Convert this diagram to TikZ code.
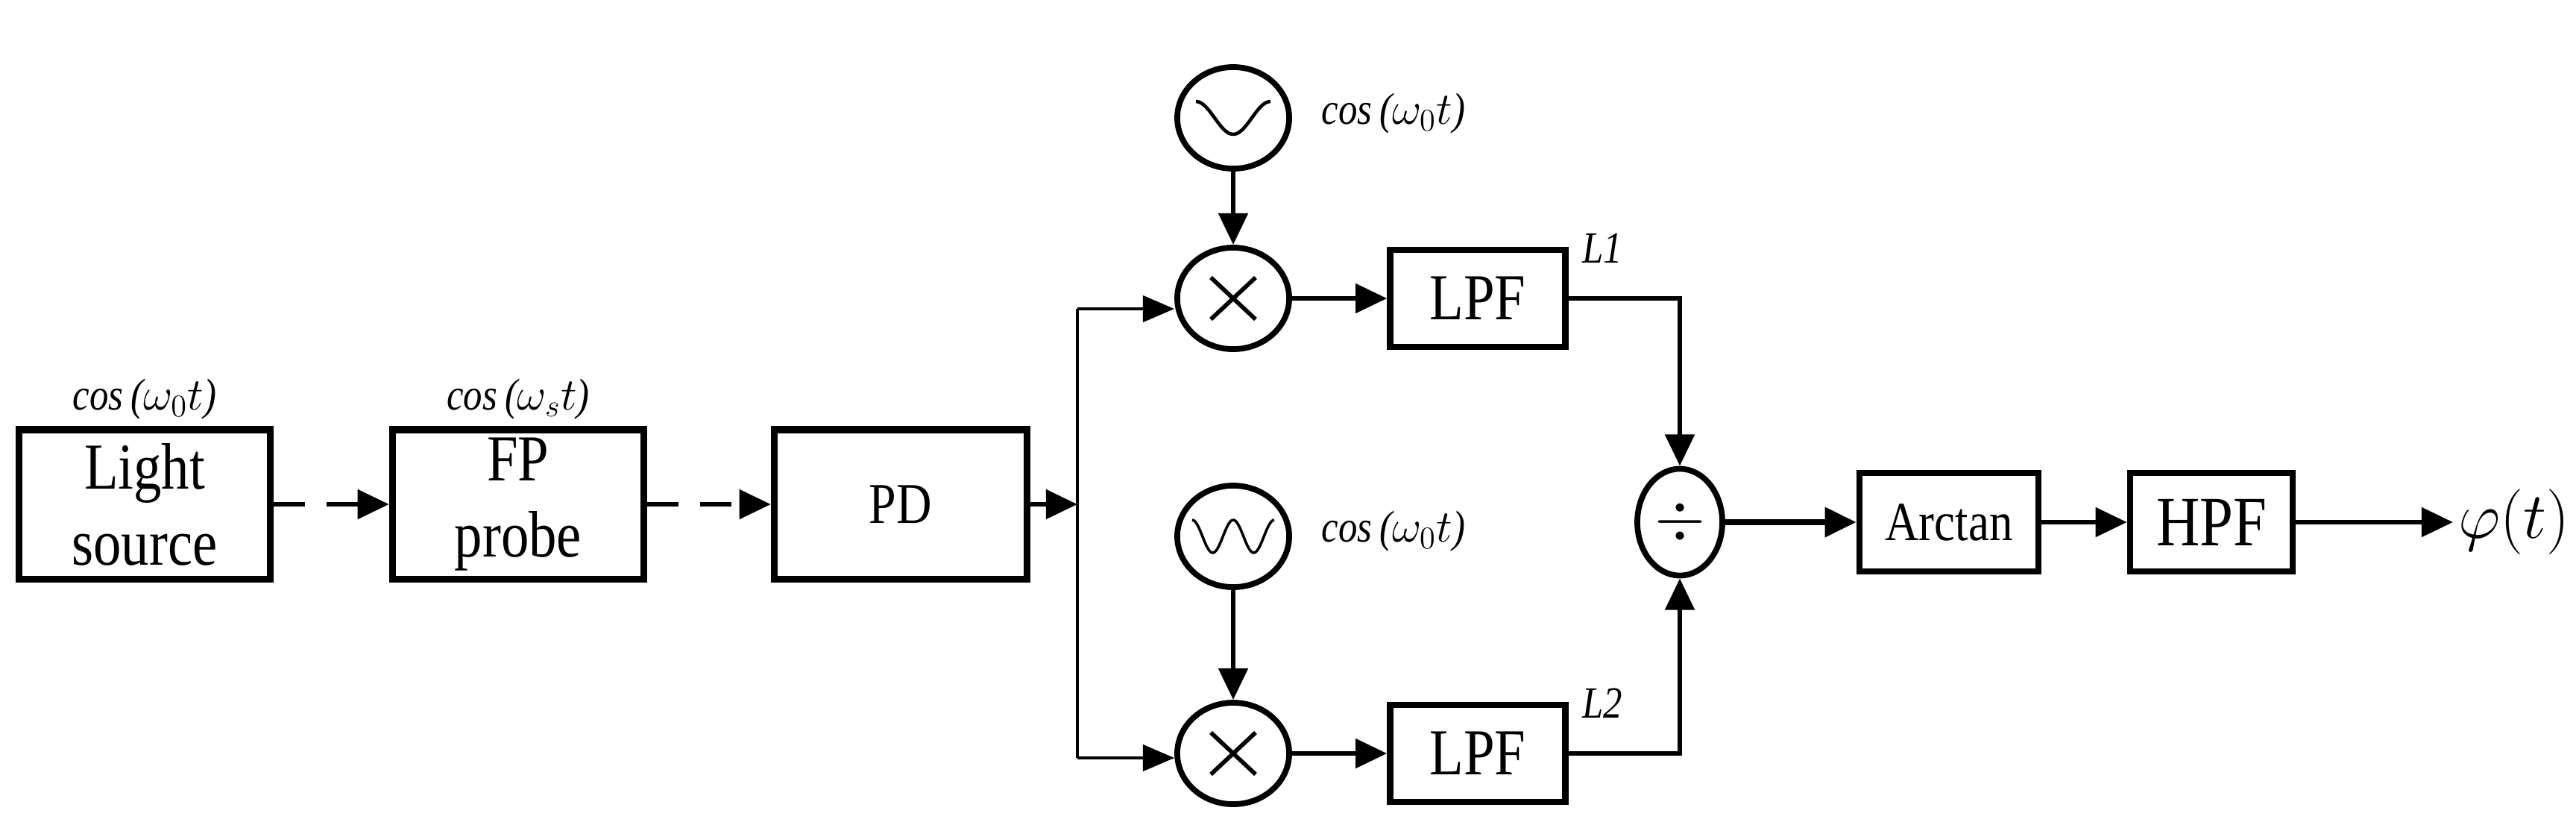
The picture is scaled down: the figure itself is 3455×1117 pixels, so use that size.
\documentclass[tikz,border=0pt]{standalone}
\usepackage{fontspec}
\setmainfont{Liberation Serif}[FakeStretch=0.85]
\usetikzlibrary{arrows.meta,shapes.geometric}
\begin{document}
\begin{tikzpicture}[x=0.01cm,y=-0.01cm,
 box/.style={draw,line width=2.6pt,minimum width=#1,align=center,inner sep=0pt,font=\fontsize{25}{29}\selectfont},
 sm/.style={draw,line width=2.4pt,align=center,inner sep=0pt,font=\fontsize{25}{28}\selectfont},
 circ/.style={draw,ellipse,line width=2.2pt,minimum width=1.5cm,minimum height=1.36cm,inner sep=0pt},
 ar/.style={-{Triangle[length=12pt,width=11pt]},line width=1.8pt},
 thin/.style={-{Triangle[length=12pt,width=10pt]},line width=1.1pt},
 lab/.style={font=\fontsize{17}{20}\selectfont\itshape}]
\useasboundingbox (0,0) rectangle (3455,1117);
\node[box=3.37cm,minimum height=2cm] (ls) at (194,676) {Light\\source};
\node[box=3.37cm,minimum height=2cm] (fp) at (695,676) {FP\\probe};
\node[box=3.39cm,minimum height=2cm,font=\fontsize{22}{26}\selectfont] (pd) at (1208,676) {PD};
\node[lab] at (194,535) {cos\,($\omega_0 t$)};
\node[lab] at (695,535) {cos\,($\omega_s t$)};
\coordinate (j) at (1445,676);
\coordinate (jt) at (1445,414);
\coordinate (jb) at (1445,1016);
\node[circ] (m1) at (1654,400) {};
\node[circ] (o1) at (1654,158) {};
\node[circ] (m2) at (1654,1010) {};
\node[circ] (o2) at (1654,719) {};
\foreach \m in {m1,m2}{\draw[line width=1.6pt] ([shift={(-30,-28)}]\m.center) -- ([shift={(30,28)}]\m.center) ([shift={(-30,28)}]\m.center) -- ([shift={(30,-28)}]\m.center);}
\draw[line width=1.3pt] plot[domain=0:1,samples=40] ({1654-50+100*\x},{158-22*cos(360*\x)});
\draw[line width=1pt] plot[domain=0:1,samples=60] ({1654-55+110*\x},{719-22*cos(720*\x)});
\node[lab,anchor=west] at (1760,152) {cos\,($\omega_0 t$)};
\node[lab,anchor=west] at (1760,712) {cos\,($\omega_0 t$)};
\node[sm,minimum width=2.35cm,minimum height=1.3cm] (f1) at (1982,400) {LPF};
\node[sm,minimum width=2.35cm,minimum height=1.3cm] (f2) at (1982,1010) {LPF};
\node[lab,anchor=south west] at (2110,365) {L1};
\node[lab,anchor=south west] at (2110,975) {L2};
\node[circ,minimum width=1.14cm,minimum height=1.43cm] (dv) at (2253,700) {};
\node[font=\fontsize{26}{28}\selectfont] at (dv) {$\div$};
\node[sm,minimum width=2.4cm,minimum height=1.32cm,font=\fontsize{21}{24}\selectfont] (at) at (2614,700) {Arctan};
\node[sm,minimum width=2.18cm,minimum height=1.32cm,font=\fontsize{27}{30}\selectfont] (hp) at (2966,700) {HPF};
\node[font=\fontsize{24}{28}\selectfont,anchor=west,inner sep=2pt] (phi) at (3290,700) {$\varphi(t)$};
\draw[ar,dashed,dash pattern=on 12pt off 8pt] (ls) -- (fp);
\draw[ar,dashed,dash pattern=on 12pt off 8pt] (fp) -- (pd);
\draw[ar] (pd) -- (j);
\draw[line width=1.1pt] (jt) -- (jb);
\draw[thin] (jt) -- (m1.west |- jt);
\draw[thin] (jb) -- (m2.west |- jb);
\draw[ar] (o1) -- (m1);
\draw[ar] (o2) -- (m2);
\draw[ar] (m1) -- (f1);
\draw[ar] (m2) -- (f2);
\draw[ar] (f1.east) -| (dv.north);
\draw[ar] (f2.east) -| (dv.south);
\draw[ar,line width=2.4pt] (dv) -- (at);
\draw[ar] (at) -- (hp);
\draw[ar] (hp) -- (phi.west);
\end{tikzpicture}
\end{document}
